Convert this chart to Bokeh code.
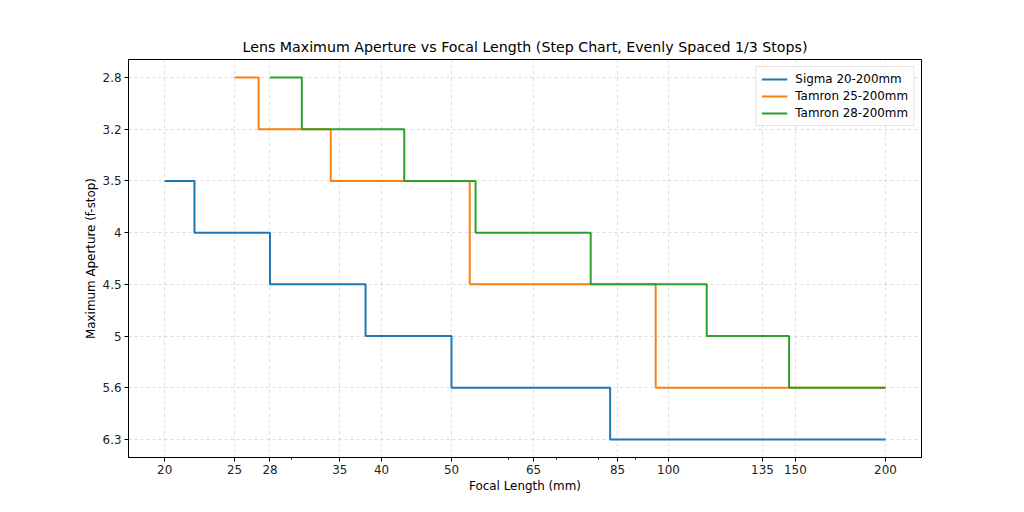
from bokeh.plotting import figure
from bokeh.models import FixedTicker, Range1d, Legend, LegendItem
from bokeh.embed import file_html
from bokeh.resources import INLINE

apertures = ["2.8", "3.2", "3.5", "4", "4.5", "5", "5.6", "6.3"]
x_ticks = [20, 25, 28, 35, 40, 50, 65, 85, 100, 135, 150, 200]
x_minor = [30, 60, 70, 80, 90]

sigma_x = [20, 22, 28, 38, 50, 83, 200]
sigma_y = ["3.5", "4", "4.5", "5", "5.6", "6.3", "6.3"]
t25_x = [25, 27, 34, 53, 96, 200]
t25_y = ["2.8", "3.2", "3.5", "4.5", "5.6", "5.6"]
t28_x = [28, 31, 43, 54, 78, 113, 147, 200]
t28_y = ["2.8", "3.2", "3.5", "4", "4.5", "5", "5.6", "5.6"]

series = [
    ("Sigma 20-200mm", sigma_x, sigma_y, "#1f77b4"),
    ("Tamron 25-200mm", t25_x, t25_y, "#ff7f0e"),
    ("Tamron 28-200mm", t28_x, t28_y, "#2ca02c"),
]

FONT = "DejaVu Sans"

p = figure(width=1008, height=496, x_axis_type="log",
           output_backend="svg", toolbar_location=None,
           x_range=Range1d(17.82, 224.4),
           y_range=Range1d(len(apertures) - 1 + 0.35, -0.35),
           min_border_left=128, min_border_right=87,
           min_border_top=59, min_border_bottom=39,
           title="Lens Maximum Aperture vs Focal Length (Step Chart, Evenly Spaced 1/3 Stops)")

p.title.text_font = FONT
p.title.text_font_size = "14.2px"
p.title.text_font_style = "normal"
p.title.align = "center"
p.title.text_color = "#000000"

items = []
for name, xs, ys, col in series:
    yi = [apertures.index(v) for v in ys]
    r = p.step(xs, yi, mode="after", line_color=col, line_width=2)
    items.append(LegendItem(label=name, renderers=[r]))

legend = Legend(items=items, location="top_right")
legend.label_text_font = FONT
legend.label_text_font_size = "11.9px"
legend.label_text_color = "#000000"
legend.glyph_width = 26
legend.glyph_height = 14
legend.label_height = 14
legend.label_standoff = 8
legend.spacing = 3
legend.padding = 5
legend.margin = 7
legend.border_line_color = "#cccccc"
legend.border_line_width = 1
legend.background_fill_alpha = 0.85
p.add_layout(legend)

p.xaxis.ticker = FixedTicker(ticks=x_ticks, minor_ticks=x_minor)
p.xaxis.major_label_overrides = {t: str(t) for t in x_ticks}
p.yaxis.ticker = FixedTicker(ticks=list(range(len(apertures))), minor_ticks=[])
p.yaxis.major_label_overrides = {i: a for i, a in enumerate(apertures)}

p.xaxis.axis_label = "Focal Length (mm)"
p.yaxis.axis_label = "Maximum Aperture (f-stop)"
for ax in (p.xaxis, p.yaxis):
    ax.axis_label_text_font = FONT
    ax.axis_label_text_font_size = "11.9px"
    ax.axis_label_text_font_style = "normal"
    ax.axis_label_text_color = "#000000"
    ax.major_label_text_font = FONT
    ax.major_label_text_font_size = "11.9px"
    ax.major_label_text_color = "#222222"
    ax.axis_line_color = "#000000"
    ax.major_tick_line_color = "#000000"
    ax.minor_tick_line_color = "#000000"
    ax.major_tick_out = 4
    ax.major_tick_in = 0
    ax.minor_tick_out = 2
    ax.minor_tick_in = 0
    ax.axis_label_standoff = 2
    ax.major_label_standoff = 3

p.xgrid.ticker = FixedTicker(ticks=x_ticks)
p.grid.grid_line_color = "#b0b0b0"
p.grid.grid_line_alpha = 0.55
p.grid.grid_line_dash = "3 3"
p.grid.grid_line_width = 0.8

p.outline_line_color = "#000000"
p.outline_line_width = 1
p.background_fill_color = "white"
p.border_fill_color = "white"

open("out.html", "w").write(file_html(p, INLINE))
